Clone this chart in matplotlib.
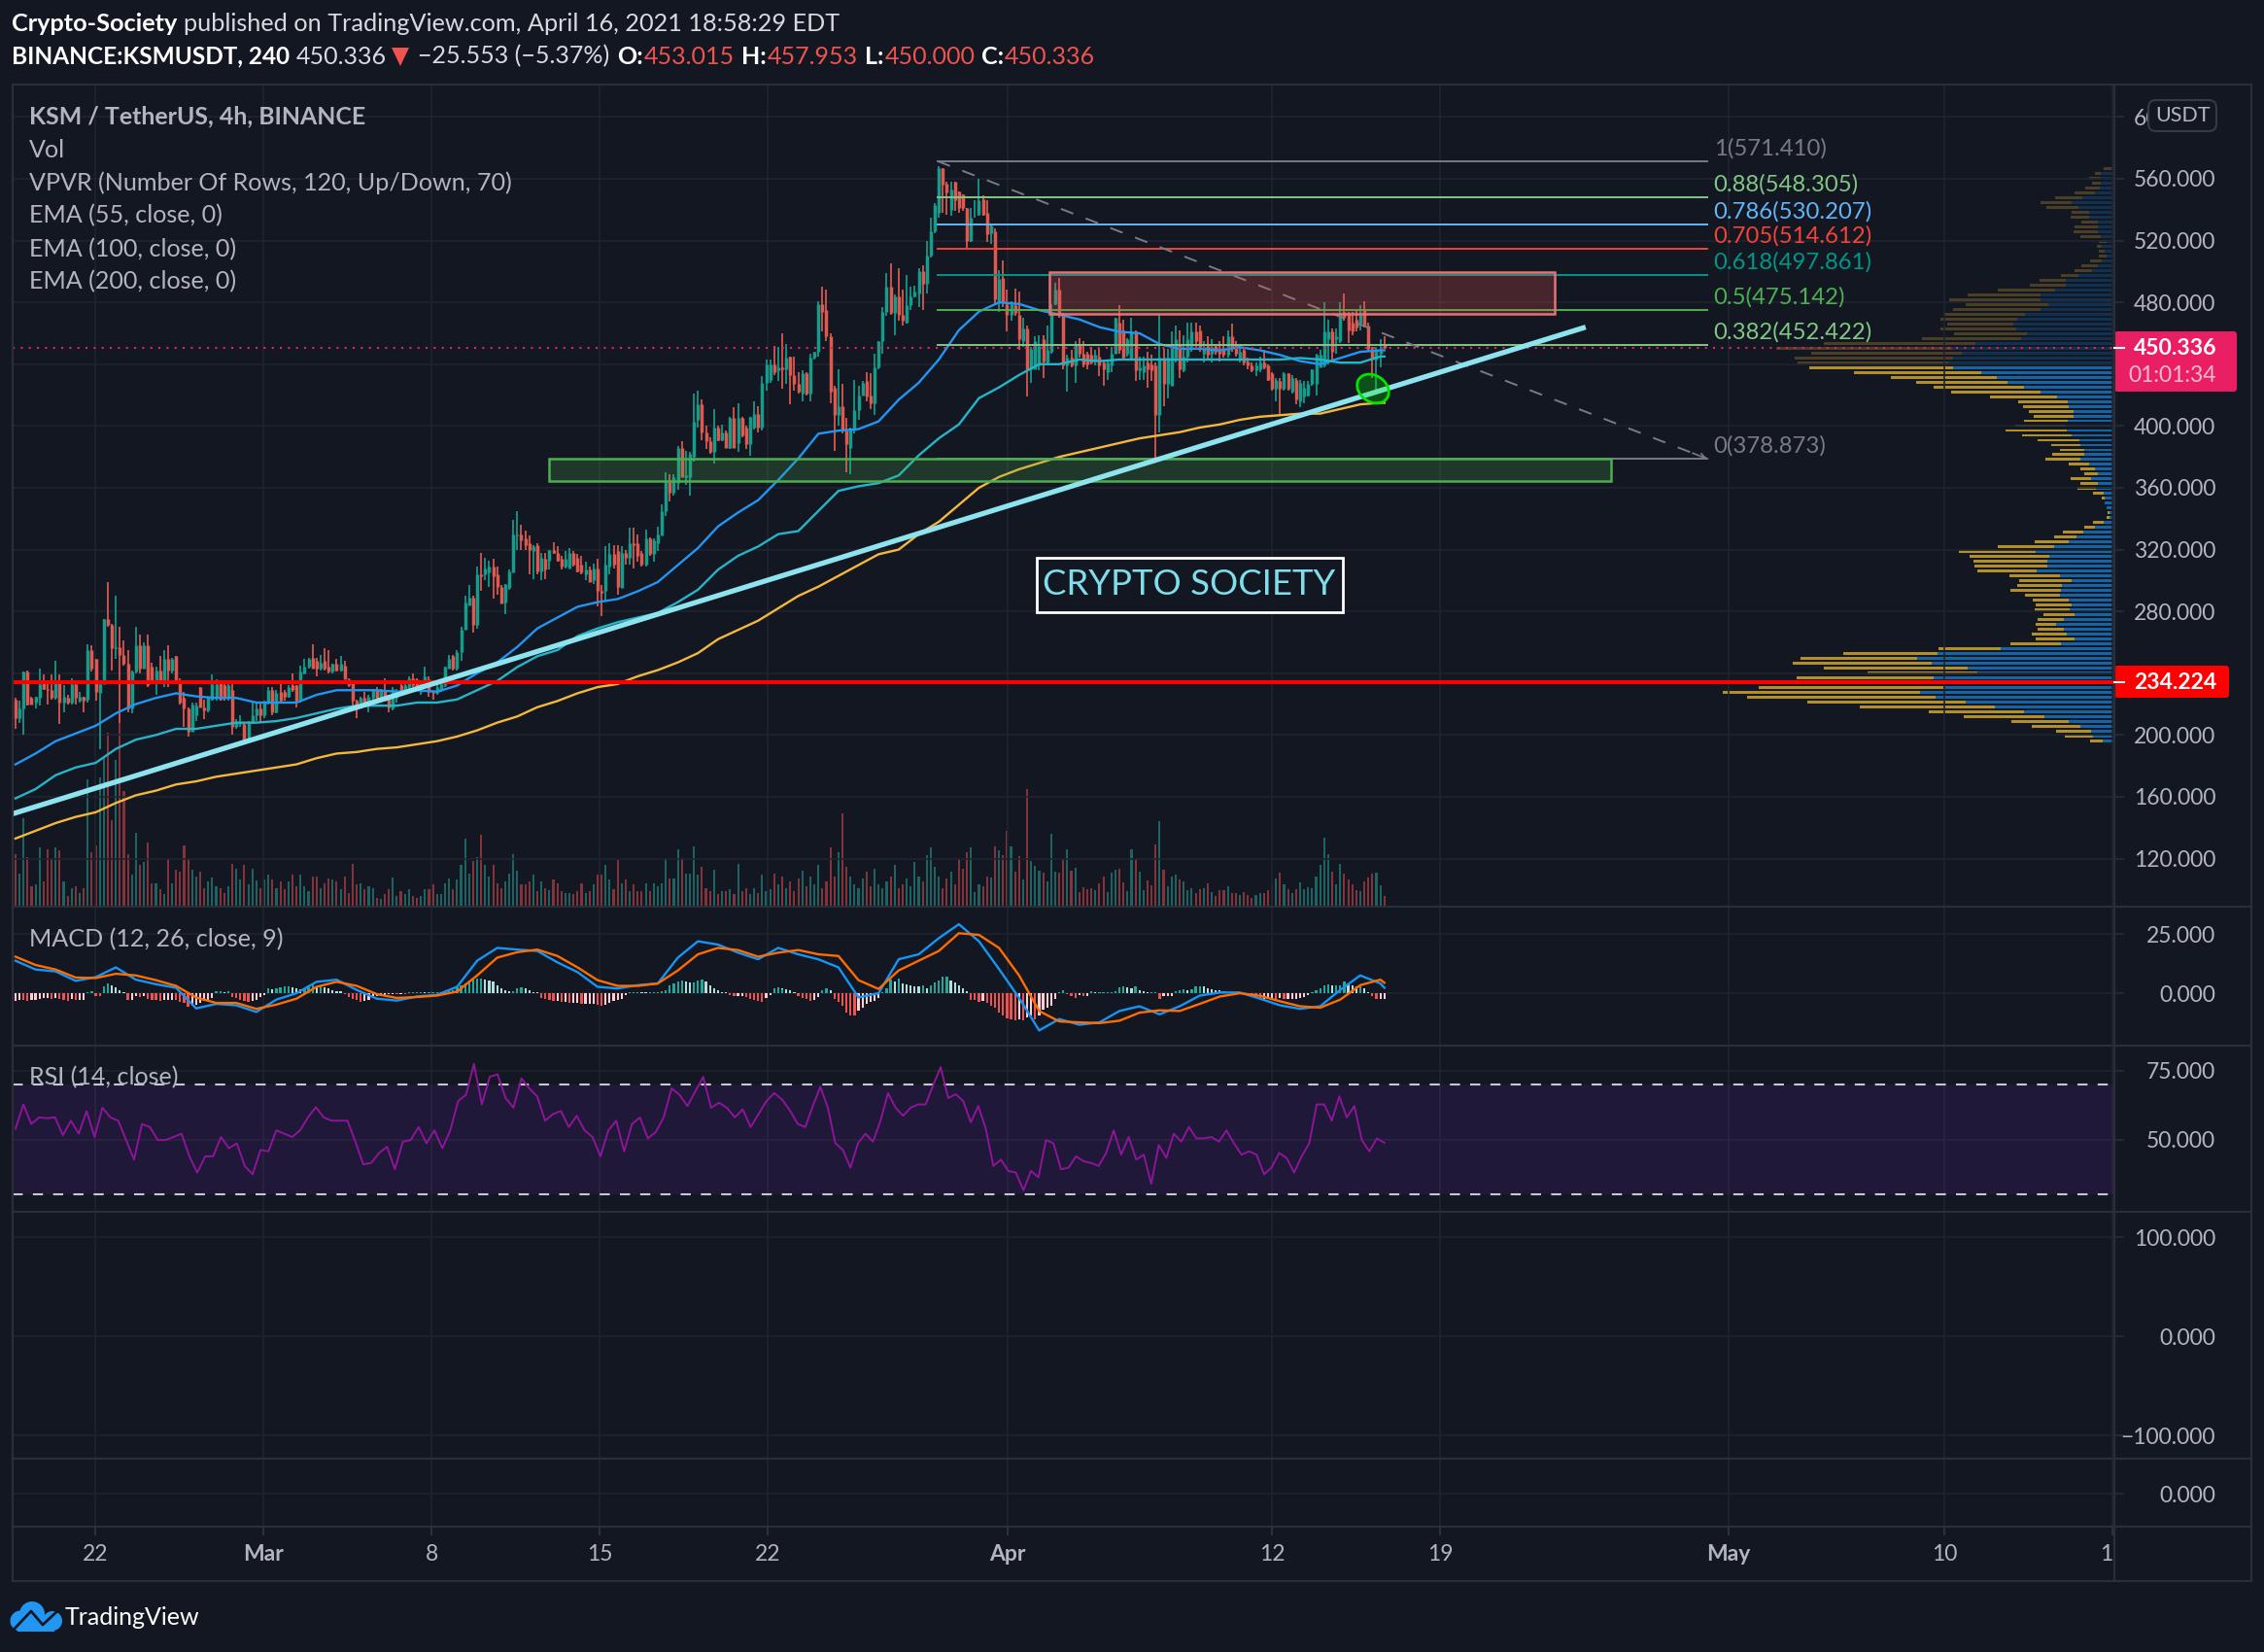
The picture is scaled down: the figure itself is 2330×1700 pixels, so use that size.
import numpy as np
import matplotlib
matplotlib.use("Agg")
import matplotlib.pyplot as plt
from matplotlib.patches import Rectangle, Ellipse, Circle, FancyBboxPatch, Polygon

W, H = 2330, 1700
BG = "#131722"
GRID = "#20242f"
FRAME = "#2a2e39"
TXT = "#b2b5be"
UP = "#169c8b"
DOWN = "#de5a50"
plt.rcParams["font.family"] = ["Lato", "DejaVu Sans"]

candles_feb = [
    (223,211,224,204),(211,217,222,208),(217,241,241,200),(241,220,242,219),(224,220,225,220),
    (221,225,225,217),(224,233,243,219),(235,230,239,229),(230,229,233,220),(229,224,239,223),
    (224,235,248,223),(235,221,239,207),(221,225,232,215),(224,221,226,220),(221,233,237,220),
    (233,224,234,220),(222,225,228,221),(225,222,225,215),(223,255,259,221),(255,243,258,241),
    (249,228,249,222),(227,233,234,191),(233,275,275,233),(275,271,299,270),(271,256,272,242),
    (256,257,290,249),(257,252,270,208),(252,246,261,245),(246,217,255,215),(217,241,242,214),
    (241,258,270,240),(258,243,265,240),(243,258,260,243),(258,232,265,231),(244,235,247,234),
    (234,242,244,226),(242,235,251,233),(235,249,255,231),(249,242,258,231),(242,249,250,240),
    (251,234,251,233),(234,221,237,220),(224,217,228,205),(217,202,218,199),(202,220,221,202),
    (213,219,221,209),(231,218,231,218),(218,216,223,210),(216,224,225,215),(223,233,239,222),
    (224,233,236,222),(234,223,235,222),(232,224,233,222),(224,232,233,222),(229,205,235,200),
    (205,208,210,204),(207,208,213,205),(207,197,208,197),(197,208,209,195),(208,213,221,207),
    (213,217,221,209),(217,213,221,208),(213,221,222,211),(221,229,231,220),(229,215,231,213),
    (215,227,229,214),(228,222,234,221),(228,225,229,222),(225,231,232,224),(232,229,240,228),
    (232,222,232,218),(223,241,245,221),(240,244,249,239),(244,249,250,243),(250,243,259,243),
    (248,243,250,238),(243,247,252,242),(248,243,256,242),(244,241,255,240),(241,246,246,240),
    (246,242,249,241),(242,246,251,241),(245,236,248,236),(236,232,237,231),(234,222,234,219),
    (222,220,223,211),(221,224,225,220),(224,220,228,220),(222,225,226,215),(224,229,230,223),
    (229,224,231,223),(225,229,230,224),(229,222,237,222),(225,218,226,215),(217,230,231,216),
    (224,228,230,221),(232,228,233,227),(228,232,233,226),(231,237,238,230),(237,232,240,231),
    (236,231,237,230),(228,234,235,226),(233,238,244,232),(236,228,238,225),(228,227,229,223),
    (227,231,233,226),(229,233,235,228),(232,244,244,231),
]
candles_mar = [
    (243,249,252,247),(251,243,252,242),(243,254,255,242),(254,268,270,248),(268,286,290,268),
    (284,289,297,284),(289,271,290,266),(271,304,309,269),(304,303,318,293),(304,308,315,300),
    (305,309,313,296),(309,303,314,288),(304,296,309,291),(296,285,297,285),(286,298,298,278),
    (295,306,307,294),(305,330,339,305),(329,330,345,320),(330,326,336,320),(327,323,332,320),
    (324,320,329,304),(319,322,323,301),(323,306,324,304),(306,315,318,300),(314,307,318,301),
    (313,320,320,307),(320,318,325,317),(318,313,322,312),(314,309,316,307),(309,314,319,308),
    (308,318,321,308),(318,310,319,309),(315,306,317,305),(310,305,316,304),(304,307,312,300),
    (307,299,309,299),(300,308,311,298),(308,293,314,283),(293,292,297,277),(293,310,322,287),
    (309,317,324,304),(317,310,323,308),(319,296,323,291),(295,318,322,295),(318,315,320,310),
    (315,324,334,310),(324,323,334,308),(324,316,330,312),(318,310,319,309),(310,327,333,309),
    (327,317,328,316),(317,326,327,312),(324,330,335,319),(329,345,349,329),(345,364,370,342),
    (364,357,369,351),(357,367,369,355),(363,386,387,359),(386,367,390,367),(367,368,384,362),
    (367,382,383,355),(380,403,421,377),(404,414,423,399),(414,396,417,391),(396,390,400,385),
    (390,383,393,382),(383,399,411,376),(399,391,400,390),(391,396,401,390),(396,386,397,386),
    (386,405,406,385),(405,386,412,386),(389,405,415,383),(405,394,406,393),(399,388,400,385),
    (388,406,406,381),(399,408,416,398),(408,399,413,396),
]
candles_late_mar = [
    (399,428,432,397),(428,440,443,423),(430,440,443,428),(440,435,452,433),(436,438,451,429),
    (438,437,460,424),(437,444,453,427),(445,433,445,414),(433,427,445,423),(427,422,435,421),
    (421,434,436,416),(434,421,435,420),(421,444,447,416),(444,448,448,443),(448,479,481,445),
    (479,474,490,461),(475,458,488,455),(458,422,460,415),(425,407,426,384),(407,413,437,400),
    (413,397,427,395),(397,388,405,370),(386,398,399,369),(397,410,430,395),(410,420,426,404),
    (420,428,429,420),(429,419,435,416),(420,415,434,411),(415,438,447,407),(438,455,455,437),
    (455,474,477,447),(474,490,499,471),(490,473,505,472),(473,484,485,459),(484,472,502,468),
    (472,468,488,465),(467,478,498,466),(478,484,490,475),(484,487,491,483),(486,500,502,477),
    (500,492,504,475),(492,510,520,486),(510,526,535,509),(526,543,544,525),
]
candles_peak = [
    (538,567,568,535),(567,556,567,538),(557,551,558,537),(540,553,558,536),(558,546,558,539),
    (552,541,552,538),(550,541,550,539),(541,520,541,515),(520,535,541,519),(536,536,546,535),
    (537,546,560,536),(547,537,549,536),(538,524,546,519),(525,530,531,518),(526,482,528,478),
]
candles_apr = [
    (480,495,501,474),(496,480,507,477),(479,472,488,461),(472,479,481,468),(478,473,489,471),
    (472,456,487,449),(455,463,470,451),(463,437,465,419),(437,450,451,428),(437,455,458,437),
    (439,452,459,436),(456,442,459,431),(441,449,465,440),(448,473,479,447),(479,488,493,478),
    (488,472,496,470),(472,439,473,437),(439,444,446,422),(444,439,449,438),(439,453,455,428),
    (453,447,457,444),(447,440,455,438),(447,440,448,437),(446,441,451,440),(442,446,449,439),
    (445,439,450,432),(441,437,443,426),(435,441,443,430),(439,447,451,435),(447,470,470,447),
    (467,449,478,447),(462,444,469,443),(447,456,457,445),(443,461,470,443),(461,436,462,429),
    (436,438,445,430),(435,439,445,430),(441,437,448,425),(440,436,446,429),(439,407,441,379),
    (407,444,472,396),(444,427,450,413),(427,444,450,418),(426,453,461,426),(444,456,465,441),
    (453,437,462,431),(436,445,459,435),(445,456,467,441),(451,461,467,448),(461,455,467,449),
    (462,451,465,448),(447,451,455,441),(452,446,458,443),(447,451,456,441),(452,448,452,446),
    (450,447,455,442),(450,446,458,444),(446,458,462,444),(458,451,466,448),(453,447,455,445),
    (443,448,453,441),(449,441,451,439),(442,439,444,437),(439,436,441,435),(436,439,441,432),
    (437,441,445,435),(441,438,449,437),(439,430,440,429),(434,424,435,423),(424,430,431,416),
    (429,424,431,408),(424,434,435,423),(434,424,434,423),(422,431,433,421),(430,417,431,414),
    (416,428,430,412),(419,425,429,415),(420,427,429,419),(427,437,437,426),(427,446,447,420),
    (438,446,449,438),(439,461,480,438),(456,461,469,440),(461,448,463,443),(456,458,463,447),
    (455,472,480,454),(474,470,486,468),(473,462,474,454),(467,461,474,459),(469,464,475,461),
    (466,472,478,462),(476,465,481,464),(465,450,467,448),(450,443,451,431),(443,449,451,423),
    (447,450,456,438),(453.015,450.336,457.953,450.0),
]

# volume in thousands of coins, roughly
volume_a = [53,33,90,50,20,22,60,25,58,48,60,57,25,10,18,20,13,18,130,55,62,132,152,178,88,150,188,118,53,32,
            75,42,45,65,23,23,17,12,48,23,37,35,62,48,37,30,35,18,25,29,20,18,13,20,43,38,27,42,22,38,
            26,18,27,32,27,18,25,17,25,32,20,32,20,15,30,30,18,23,28,27,25,17,30,13,43,22,23,17,20,18,
            8,7,12,17,29,10,15,12,17,10,8,10,17,17,22,12,12,23,28,17,27,42,69,33,46,50,73,42,30,42,
            23,18,25,33,53,36,22,22,25,32,15,25,18,16,27,23,15,13,13,12,15,23,13,15,22,32,32,42,27,17,
            47,23,27,15,22,15,15,23,15,23,20,23,49,28,28,58,49,33,33,61,32,40,18,15,37,12,15,15,17,12,
            43,15,18,12,18,13,32,15,17,33]
volume_b = [22,30,18,25,15,28,36,20,30,22,42,18,25,60,30,55,95,40,30,22,18,28,35,20,38,22,18,25,30,42,
            18,22,28,20,45,30,25,52,60,40,30,18,28,35,22,48,38,55,60]
volume_c = [14,22,20,30,29,61,57,52,77,61,35,51,27,120,46,41,36,34,25,74,35,34,47,58,36,39,14,19,17,18,
            16,23,30,14,34,37,38,24,15,58,48,35,16,26,21,63,87,37,20,30,32,27,25,16,18,13,17,18,23,14,
            10,16,16,20,13,13,11,14,11,8,11,13,13,16,21,28,34,22,17,13,17,24,17,19,18,30,42,70,53,35,
            22,43,33,27,22,16,15,25,29,33,34,21,10]

# EMAs sampled every 5th bar, plus the last bar
ema55 = [181,188,196,201,206,214,220,224,227,225,224,224,221,221,221,226,229,229,229,228,229,228,232,240,247,257,269,276,283,286,
         288,293,299,310,321,335,344,352,365,379,395,397,398,403,417,428,443,462,474,480,479,475,472,469,464,461,460,453,450,450,
         449,451,449,446,442,440,444,448,449,449]
ema100 = [159,165,174,179,182,191,197,200,204,204,206,208,208,209,211,214,217,219,219,219,221,221,223,229,235,244,251,255,264,269,
          273,276,279,286,294,307,316,322,330,332,345,358,361,363,368,381,392,401,418,425,433,440,440,443,442,443,443,443,443,443,
          443,443,443,443,444,443,441,441,445,445]
ema200 = [133,138,143,147,150,156,161,164,168,170,173,175,177,179,181,185,188,189,191,192,194,196,199,203,208,212,218,222,227,231,
          233,238,242,247,253,262,268,274,282,290,296,303,310,317,320,330,338,349,360,367,372,376,380,383,386,389,392,394,396,399,
          401,404,406,407,408,408,411,414,415,415]

macd_line = [13.7,10,9.2,5.2,6.8,10.9,5.7,3.8,2.3,-6.4,-4.5,-5.1,-7.9,-2.7,0,4.8,5.7,1.4,-2.3,-3.1,-1.4,-.7,2.7,13.7,19.1,18.4,17.8,13,8.9,2.7,
             2,3.4,4.1,15,21.9,20.5,17.1,14.3,19.1,16.4,14.3,10.9,-1.8,0,14.3,16.4,23.2,29.1,21.9,10.2,-2,-15.7,-10.9,-13.3,-12.3,-7.5,-5.5,-8.9,-5.5,-1,
             .3,.3,-2.3,-5.1,-6.6,-5.5,1.4,7.5,4.1,2.3]
signal_line = [15.4,11.9,10,6.6,6.4,8.2,7.5,5.5,3.1,-1.8,-4.1,-4.1,-6.6,-4.8,-2.3,2.7,4.8,3.1,-.4,-2,-1.6,-1,.7,7.5,15,17.3,18.4,15.7,10.9,5.5,
               3.1,3.1,4.1,9.6,16.4,19.1,18.2,15.4,17.1,18.2,16.4,15.7,5.5,1.8,9.6,13.7,17.8,25.3,24.6,19.1,7.5,-7.5,-11.9,-12.3,-12.6,-11.6,-8.2,-7.2,-7.5,-4.5,
               -1.4,0,-1.1,-3.4,-5.5,-6.1,-2.7,3.4,5.7,4.4]
hist_a = [-3.4,-2.7,-3,-3.4,-3,-2.7,-2.5,-2,-2,-2.5,-2,-2.5,-3,-3.4,-2.5,-3,-3,-3,.4,.7,-1.1,-1.4,2.7,4.1,3.4,2.5,1.4,.4,-3,-2.7,
          -1.4,-1.6,-1.1,-2.5,-2.7,-3,-3.4,-3,-2.7,-2.7,-3,-3.8,-4.1,-5.7,-5.5,-4.8,-4.1,-3.4,-2.7,-2,.7,.7,.5,.7,-1.6,-2,-3,-3.4,-3.8,-3.4,
          -2.7,-1.6,-.7,2,1.6,2,2.5,2.7,2.7,2.5,2,1.6,2,3.4,3.8,3,3.4,2.5,2,1.1,.8,.7,-.5,-1.6,-2.5,-3,-3.8,-3.4,-2.7,-2,
          -1.4,-1.1,-.8,-.5,-.4,-.5,-.4,-.5,.3,.4,.5,.5,.4,.4,.4,.4,.3,.3,.7,1.4,2.5,3.4,4.1,5.2,5.7,6.1,6.1,5.7,5.5,4.8,
          3.4,2,1.1,.7,.7,2,2.5,2,1.1,.5,.3,-2,-2.5,-3,-3.4,-3.4,-3.8,-3.8,-4.1,-4.1,-4.1,-4.4,-4.4,-4.4,-4.4,-4.8,-5.2,-4.8,-4.1,-3.4,
          -2.7,-2.5,-.7,.4,.4,.5,.4,.3,.4,.4,.4,.7,1.1,3.4,4.1,4.8,5.5,4.8,4.4,4.4,5.2,5.7,4.8,3.4,2,1.1,.4,.3,-.7,-1.1,
          -1.1,-1.1,-1.6,-2.5,-2.7,-3.4,-3.8,-2,-.7,2,2.5,2]
hist_b = [1.8,1.6,1.4,.5,-1.1,-2,-2.5,-3.4,-2.7,-1.6,1.1,2,1.1,-2.5,-3.8,-5.2,-8.2,-9.3,-9.6,-7.5,-6.1,-4.4,-3.8,-3.4,-2,.3,2,5.7,4.8,6.1,
          4.1,3.8,3.4,3,2.7,3.4,2,3.4,4.4,5.5,6.8,7.1,5.5,4.4,3.4,2,.7,-2.7,-3,-3.8,-3.4,-4.1,-5.5,-6.1,-8.2,-9.6,-10.7,-11.2,-11.6,-11.2,
          -11.6,-10.2,-9.6,-10.9,-9.6,-6.8,-6.1,-5.5,-2.5,.4,1.4,-.4,-1.1,-2,-.7,-1.1,-1.1,.7,.4,.4,.4,.4,.4,.7,2.5,3,2.5,2,2.7,1.4,
          .7,.4,.4,.4,-2.5,-1.1,-1.1,-1.1,.7,1.4,1.6,1.4,1.6,2.7,3,2.7,2,1.6,1.4,1.1,.7,.4,.3,.2,.1,-.2,-.3,-1.6,-2,-2.5,
          -2.5,-2.5,-2.5,-2.7,-2,-2.5,-2.5,-2.5,-2.5,-2,-1.6,-.8,.4,1.1,2,3.4,3.8,3.4,3.4,3.4,4.8,3.8,3.4,3,3,2,.4,-1.4,
          -2.5,-2.5,-2.5]

rsi_a = [53.9,62.7,55.6,58,57.7,58,51.5,56.8,52.1,60.3,50.9,61.5,58,56.8,49.8,42.7,55.6,54.5,49.8,49.8,50.9,52.1,43.9,38,43.9,43.9,50.9,46.8,48.6,40.4,
         37.4,46.2,45.7,53.3,52.1,50.9,53.3,58,61.7,58,56.8,56.8,56.8,49.2,41,41.5,45.1,47.4,39.2,49.2,49.8,54.5,48.6,53.3,46.8,53.3,63.9,66.2,77.4,62.7,
         72.7,73.6,65,61.5,72.1,68.5,65.6,56.8,59.2,60.3,54.5,58.6,53.3,50.9,43.9,53.3,56.8,45.7,55.6,58,50.4,52.7,58,68.5,66.2,62.1,67.4,72.7,61.5,63.3,
         61.5,58,60.9,54.5,59.2,63.9,66.8,64.4]
rsi_b = [60.3,55.6,54.5,62.1,69.1,61.5,48.6,46.2,39.8,48.6,52.1,49.2,56.8,66.8,61.5,58.6,61.5,62.7,62.7,69.7,76.2,65,66.4,63.9,56.2,62.1,53.9,40.4,42.7,38.6,
         38,31.6,38.6,36.3,49.8,48.6,39.2,39.8,43.9,42.1,41.5,40.4,45.1,53.3,44.5,50.9,42.7,44.5,33.9,48,43.3,52.1,49.2,54.5,50.4,50.4,50.9,49.2,53.3,48.6,
         44.5,45.7,44.5,37.4,39.8,45.1,43.3,38,43.9,48.6,62.7,62.7,56.8,65.6,58,62.1,49.8,45.7,50.4,48.8]

# volume profile rows from top to bottom (up part / down part)
vp_up = [5,35,35,35,38,50,82,110,92,65,65,43,43,43,35,20,33,25,20,33,43,58,92,125,125,152,190,190,170,190,
         230,250,260,252,225,240,355,415,390,413,425,413,342,300,275,232,188,148,120,118,105,105,120,125,122,110,90,88,78,78,
         88,65,50,43,60,43,48,28,25,25,20,13,13,28,50,80,97,117,155,202,168,172,172,200,140,110,135,137,140,117,
         110,115,102,130,150,130,122,102,137,290,453,505,468,377,350,462,543,438,498,458,380,305,232,178,118,88,60,55,30]
vp_down = [23,15,30,23,37,52,70,79,83,45,47,42,59,62,52,20,12,15,20,30,42,44,45,67,92,147,187,233,211,223,
           208,195,168,193,185,253,390,450,387,406,387,369,325,273,233,231,230,171,127,117,115,102,112,130,157,127,107,74,62,82,
           89,52,38,35,52,45,47,27,8,0,0,5,7,27,28,52,58,87,144,197,203,189,187,151,129,134,114,130,89,92,
           92,89,80,67,52,67,90,100,130,161,242,299,356,367,282,352,504,473,505,483,407,347,244,208,146,124,90,72,33]

fib_levels = [1, 0.88, 0.786, 0.705, 0.618, 0.5, 0.382, 0]
fib_prices = [571.410, 548.305, 530.207, 514.612, 497.861, 475.142, 452.422, 378.873]
fib_colors = ["#787b86", "#81c784", "#64b5f6", "#f44336", "#009688", "#4caf50", "#81c784", "#787b86"]

price_ticks = [120, 160, 200, 240, 280, 320, 360, 400, 440, 480, 520, 560, 600]
hidden_price_labels = [240, 440]   # covered by the price tags in the chart
date_ticks = [0, 7, 14, 21, 28, 38, 49, 56, 68, 77, 84]   # days after Feb 22
date_labels = ["22", "Mar", "8", "15", "22", "Apr", "12", "19", "May", "10", "17"]
month_labels = ["Mar", "Apr", "May"]

last_price = 450.336
red_level = 234.224

first_bar_day = -3.32
bar_step = 0.16713
x_left, x_right = (13 - 98) / 24.72, (2176 - 98) / 24.72


def bar_day(i):
    return first_bar_day + np.asarray(i) * bar_step


def pane(top, bottom, ylim, ticks, blank=()):
    ax = fig.add_axes([13 / W, 1 - bottom / H, (2176 - 13) / W, (bottom - top) / H])
    ax.patch.set_visible(False)
    ax.set_xlim(x_left, x_right)
    ax.set_ylim(*ylim)
    ax.set_xticks(date_ticks)
    ax.tick_params(axis="x", length=0, labelbottom=False)
    ax.yaxis.tick_right()
    ax.set_yticks(ticks)
    labels = ["" if t in blank else f"{t:.3f}".replace("-", "\u2212") for t in ticks]
    ax.set_yticklabels(labels, ha="right", color=TXT, fontsize=16.5)
    ax.tick_params(axis="y", length=7, width=1.1, color=FRAME, pad=68)
    ax.grid(True, color=GRID, lw=1.2)
    ax.set_axisbelow(True)
    for s in ax.spines.values():
        s.set_visible(False)
    return ax


fig = plt.figure(figsize=(W / 100, H / 100), dpi=100, facecolor=BG)

# main price pane
ax_vol = pane(87, 933, (0, 846), [])
ax_vol.grid(False)
ax_vol.set_zorder(1)
ax_vp = ax_vol.twiny()
ax_vp.set_zorder(1)
ax_vp.axis("off")
ax = pane(87, 933, (88.9, 621), price_ticks, blank=hidden_price_labels)
ax.set_zorder(2)

all_candles = np.array(candles_feb + candles_mar + candles_late_mar + candles_peak + candles_apr, dtype=float)
opens, closes, highs, lows = all_candles.T
n = len(closes)
days = bar_day(np.arange(n))
is_up = closes >= opens
colors = np.where(is_up, UP, DOWN)

# draw volume
volume = np.array(volume_a + volume_b + volume_c, dtype=float)
vol_days = bar_day(n - 1) - (len(volume) - 1 - np.arange(len(volume))) * bar_step
vol_up = is_up[-len(volume):] if len(volume) <= n else np.r_[np.ones(len(volume) - n, bool), is_up]
ax_vol.bar(vol_days, volume, width=0.085, color=np.where(vol_up, "#1c6361", "#83333a"), bottom=1, lw=0)

# volume profile, rows above the value area are dimmed
vp_up = np.array(vp_up, dtype=float)
vp_down = np.array(vp_down, dtype=float)
vp_price = np.linspace(566.4, 196.4, len(vp_up))
ax_vp_y = (vp_price - 88.9) * 846 / (621 - 88.9)
ax_vp.set_xlim(2163 * 2.489, 0)
bright = np.arange(len(vp_up)) >= 41
ax_vp.barh(ax_vp_y, vp_up, height=2.9, color=np.where(bright, "#1565a6", "#12304f"), lw=0)
ax_vp.barh(ax_vp_y, vp_down, left=vp_up, height=2.9, color=np.where(bright, "#b38f27", "#4a3e26"), lw=0)

# candles
ax.vlines(days, lows, highs, colors=colors, lw=1.25, capstyle="butt", zorder=3)
ax.vlines(days, np.minimum(opens, closes), np.maximum(opens, closes), colors=colors, lw=2.5,
          capstyle="butt", zorder=3)

ema_bars = np.r_[np.arange(0, 341, 5), 341]
ax.plot(bar_day(ema_bars), ema55, color="#2196f3", lw=1.7, zorder=4)
ax.plot(bar_day(ema_bars), ema100, color="#26b5c8", lw=1.7, zorder=4)
ax.plot(bar_day(ema_bars), ema200, color="#f5b83d", lw=1.7, zorder=4)

# fib tool
fib_start, fib_end = 35.07, 67.1
for lvl, pr, col in zip(fib_levels, fib_prices, fib_colors):
    ax.plot([fib_start, fib_end], [pr, pr], color=col, lw=1.4, zorder=5)
    ax.annotate(f"{lvl}({pr:.3f})", (fib_end, pr), xytext=(5, 9.5), textcoords="offset points",
                color=col, fontsize=17.2, va="center", zorder=7, annotation_clip=False)
ax.plot([fib_start, fib_end], [fib_prices[0], fib_prices[-1]], color="#787b86", lw=1.4,
        dashes=(7, 7), zorder=5)
ax.annotate("", xy=(fib_end, fib_prices[-1]), xytext=(fib_end - 0.6, fib_prices[-1] + 3.6),
            arrowprops=dict(arrowstyle="->", color="#787b86", lw=1.2, shrinkA=0, shrinkB=0))

# boxes
ax.add_patch(Rectangle((39.71, 472.8), 60.78 - 39.71, 499.6 - 472.8, fc=(0.94, 0.33, 0.31, 0.24),
                       ec="#e57373", lw=1.8, zorder=5))
ax.add_patch(Rectangle((18.9, 364.4), 63.1 - 18.9, 378.7 - 364.4, fc=(0.3, 0.69, 0.31, 0.22),
                       ec="#4caf50", lw=1.8, zorder=5))

ax.axhline(last_price, color="#ec1f64", lw=1.5, ls=(0, (1, 3)), zorder=6)
ax.plot([x_left, x_right], [red_level, red_level], color="#ff0000", lw=3, zorder=6)
ax.plot([x_left, 62.05], [149, 464], color="#8ee4ee", lw=3.8, zorder=6, solid_capstyle="butt")

# MACD
ax_m = pane(933, 1076, (-22.1, 36.5), [0, 25])
hist = np.array(hist_a, dtype=float)
hist2 = np.array(hist_b, dtype=float)
for vals, bars in ((hist, np.arange(len(hist))), (hist2, np.arange(341 - len(hist2) + 1, 342))):
    rising = np.diff(vals, prepend=vals[0]) >= 0
    cols = np.where(vals >= 0, np.where(rising, "#26a69a", "#b2dfdb"), np.where(rising, "#ffcdd2", "#ef5350"))
    ax_m.bar(bar_day(bars), vals, width=0.09, color=cols, lw=0, zorder=2)
ax_m.plot(bar_day(ema_bars), macd_line, color="#1595f5", lw=1.7, zorder=3)
ax_m.plot(bar_day(ema_bars), signal_line, color="#ff6d00", lw=1.7, zorder=3)

# RSI
ax_r = pane(1076, 1247, (23.8, 84), [50, 75])
ax_r.axhspan(30, 70, color="#7e22ce", alpha=0.13, lw=0, zorder=1)
ax_r.axhline(70, color="#c6c8d0", lw=1.5, dashes=(5, 5), zorder=2)
ax_r.axhline(30, color="#c6c8d0", lw=1.5, dashes=(5, 5), zorder=2)
rsi_a_x = np.linspace(0, 191, len(rsi_a))
rsi_b_x = np.linspace(193, 341, len(rsi_b))
ax_r.plot(bar_day(np.r_[rsi_a_x, rsi_b_x]), rsi_a + rsi_b, color="#8e1599", lw=1.4, zorder=3)

# two empty panes at the bottom
ax_e = pane(1247, 1501, (-123.5, 125.5), [-100, 0, 100])
ax_f = pane(1501, 1571, (-34, 36), [0])

# time axis
ax_t = fig.add_axes([13 / W, 1 - 1627 / H, (2176 - 13) / W, (1627 - 1571) / H])
ax_t.patch.set_visible(False)
ax_t.set_xlim(x_left, x_right)
ax_t.set_ylim(0, 1)
ax_t.set_yticks([])
ax_t.set_xticks(date_ticks)
ax_t.set_xticklabels([])
ax_t.tick_params(axis="x", top=True, bottom=False, direction="in", length=6.5, width=1.1, color="#363a45")
for s in ax_t.spines.values():
    s.set_visible(False)
for d, lab in zip(date_ticks, date_labels):
    ax_t.text(d, 0.5, lab, ha="center", va="center", color=TXT, fontsize=16.5,
              fontweight="bold" if lab in month_labels else "normal", clip_on=True)

# overlay in screen pixels: frame, legends, price tags, logo
ov = fig.add_axes([0, 0, 1, 1], zorder=10)
ov.set_xlim(0, W)
ov.set_ylim(H, 0)
ov.axis("off")
for y in (87, 933, 1076, 1247, 1501, 1571, 1627):
    ov.plot([13, 2317], [y, y], color=FRAME, lw=1.6)
ov.plot([13, 13], [87, 1627], color=FRAME, lw=1.6)
ov.plot([2176, 2176], [87, 1627], color=FRAME, lw=1.6)
ov.plot([2317, 2317], [87, 1627], color=FRAME, lw=1.6)

ov.add_patch(FancyBboxPatch((2211, 103), 70, 32, boxstyle="round,pad=0,rounding_size=8", fc=BG, ec="#363a45", lw=1.5))
ov.text(2246, 119, "USDT", color=TXT, fontsize=15.5, ha="center", va="center")

ov.add_patch(FancyBboxPatch((2176, 341), 126, 62, boxstyle="round,pad=0,rounding_size=3", fc="#e91e63", ec="none"))
ov.plot([2176, 2186], [358, 358], color="white", lw=1.5)
ov.text(2281, 358, "450.336", color="white", fontsize=16.5, fontweight="bold", ha="right", va="center")
ov.text(2281, 386, "01:01:34", color="#f8bbd0", fontsize=16.5, ha="right", va="center")
ov.add_patch(FancyBboxPatch((2176, 685), 118, 33, boxstyle="round,pad=0,rounding_size=3", fc="#ff0000", ec="none"))
ov.plot([2176, 2186], [702, 702], color="white", lw=1.5)
ov.text(2281, 702, "234.224", color="white", fontsize=16.5, fontweight="bold", ha="right", va="center")

ov.text(12, 24, "Crypto-Society", color="white", fontsize=18.2, fontweight="bold", va="center")
ov.text(189, 24, "published on TradingView.com, April 16, 2021 18:58:29 EDT", color="#d9dae0", fontsize=18.2, va="center")
ov.text(12, 58, "BINANCE:KSMUSDT, 240", color="white", fontsize=17.6, fontweight="bold", va="center")
ov.text(305, 58, "450.336", color="#d9dae0", fontsize=18, va="center")
ov.add_patch(Polygon([[403, 49], [421, 49], [412, 68]], fc="#ef5350", ec="none"))
ov.text(430, 58, "\u221225.553 (\u22125.37%)", color="#d9dae0", fontsize=18, va="center")
for xl, lab, xv, val in ((635, "O:", 663, "453.015"), (763, "H:", 790, "457.953"),
                         (890, "L:", 911, "450.000"), (1010, "C:", 1034, "450.336")):
    ov.text(xl, 58, lab, color="white", fontsize=18, fontweight="bold", va="center")
    ov.text(xv, 58, val, color="#ef5350", fontsize=18, va="center")

ov.text(30, 120, "KSM / TetherUS, 4h, BINANCE", color=TXT, fontsize=17.9, fontweight="bold", va="center")
legend_lines = ["Vol", "VPVR (Number Of Rows, 120, Up/Down, 70)", "EMA (55, close, 0)", "EMA (100, close, 0)", "EMA (200, close, 0)"]
for y, s in zip((154, 188, 222, 257, 290), legend_lines):
    ov.text(30, y, s, color=TXT, fontsize=18.1, va="center")
ov.text(30, 967, "MACD (12, 26, close, 9)", color=TXT, fontsize=18.1, va="center")
ov.text(30, 1109, "RSI (14, close)", color=TXT, fontsize=18.1, va="center")

ov.add_patch(Ellipse((1413, 400), 35, 27, angle=35, fc=(0, 0.9, 0, 0.28), ec="#00e600", lw=2))
ov.add_patch(Rectangle((1067, 574), 315, 56, fc=BG, ec="white", lw=2))
ov.text(1224, 601, "CRYPTO SOCIETY", color="#80deea", fontsize=26.3, ha="center", va="center")

# logo
for cx, cy, r in ((33, 1661, 13), (21, 1668, 10.5), (54, 1668, 10)):
    ov.add_patch(Circle((cx, cy), r, fc="#2196f3", ec="none"))
ov.add_patch(Rectangle((18, 1664), 38, 15, fc="#2196f3", ec="none"))
ov.plot([13, 32, 44, 60], [1678, 1658, 1672, 1657], color=BG, lw=2)
ov.text(67, 1664, "TradingView", color="white", fontsize=18, va="center")

fig.savefig("out.png", dpi=100, facecolor=BG)
